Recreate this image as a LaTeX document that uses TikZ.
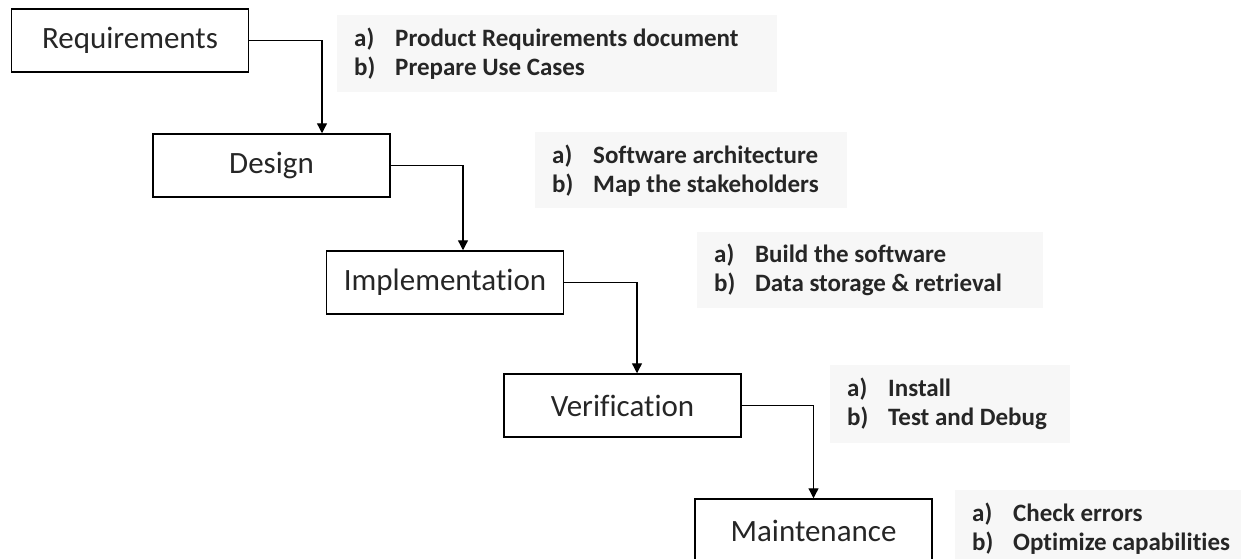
\documentclass[tikz,border=0pt]{standalone}
\usepackage{fontspec}
\setmainfont{Carlito}[Ligatures={NoCommon,NoRare}]
\usetikzlibrary{arrows.meta}
\newcommand{\lbl}[1]{\makebox[41pt][l]{#1}}

\begin{document}
\begin{tikzpicture}[x=1pt,y=-1pt,
	phase/.style={draw,line width=1.5pt,minimum width=237pt,minimum height=63pt,
	inner sep=0pt,font=\fontsize{31}{36}\selectfont,text=black!85},
	todo/.style={anchor=north west,fill=black!3,align=flush left,inner xsep=17pt,inner ysep=0pt,
	font=\fontsize{25}{29}\selectfont\bfseries,text=black!85},
	flow/.style={line width=1.3pt,-{Triangle[length=10pt,width=10pt]}}]
\useasboundingbox (0,0) rectangle (1241,558);
\node[phase] (req) at (130,40.5) {Requirements};
\node[phase] (des) at (271.5,165.5) {Design};
\node[phase] (imp) at (445,282.5) {Implementation};
\node[phase] (ver) at (622.5,405.5) {Verification};
\node[phase] (mai) at (813.5,530.5) {Maintenance};
\draw[flow] (req.east) -| ([xshift=50.5pt]des.north);
\draw[flow] (des.east) -| ([xshift=18pt]imp.north);
\draw[flow] (imp.east) -| ([xshift=14.5pt]ver.north);
\draw[flow] (ver.east) -| (mai.north);
\node[todo,text width=406pt,minimum height=77pt] (reqtodo) at (337,15)
	{\lbl{a)}Product Requirements document\\ \lbl{b)}Prepare Use Cases};
\node[todo,text width=278pt,minimum height=76pt] (destodo) at (535,132)
	{\lbl{a)}Software architecture\\ \lbl{b)}Map the stakeholders};
\node[todo,text width=312pt,minimum height=76pt] (imptodo) at (697,232)
	{\lbl{a)}Build the software\\ \lbl{b)}Data storage \& retrieval};
\node[todo,text width=206pt,minimum height=78pt] (vertodo) at (830,365)
	{\lbl{a)}Install\\ \lbl{b)}Test and Debug};
\node[todo,text width=280pt,minimum height=77pt] (maitodo) at (955,490)
	{\lbl{a)}Check errors\\ \lbl{b)}Optimize capabilities};
\end{tikzpicture}
\end{document}
